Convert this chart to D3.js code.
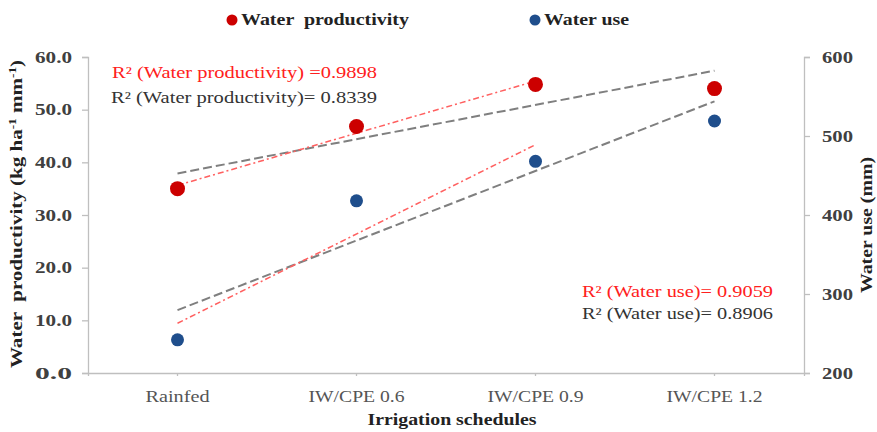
<!DOCTYPE html>
<html><head><meta charset="utf-8">
<script src="https://cdn.jsdelivr.net/npm/d3@7"></script>
<style>
body{margin:0;background:#fff;}
text{font-family:"Liberation Serif","Times New Roman",serif;}
</style></head>
<body><svg id="c" width="877" height="432"></svg>
<script>
const categories = ["Rainfed", "IW/CPE 0.6", "IW/CPE 0.9", "IW/CPE 1.2"];
const waterProductivity = [35.0, 46.8, 54.8, 54.0];
const waterUse = [242, 418, 468, 519];
const leftTicks = [0, 10, 20, 30, 40, 50, 60];
const rightTicks = [200, 300, 400, 500, 600];
const seriesNames = ["Water  productivity", "Water use"];
const r2Labels = [
  "R\u00B2 (Water productivity) =0.9898",
  "R\u00B2 (Water productivity)= 0.8339",
  "R\u00B2 (Water use)= 0.9059",
  "R\u00B2 (Water use)= 0.8906"
];

const svg = d3.select("#c");
const L = 88, R = 804, T = 57, B = 373;
const x = d3.scaleBand().domain(categories).range([L, R]).padding(0);
const cx = c => x(c) + x.bandwidth() / 2;
const yL = d3.scaleLinear().domain([0, 60]).range([B, T]);
const yR = d3.scaleLinear().domain([200, 600]).range([B, T]);
const axisColor = "#bfbfbf";
const stretch = (sel, w) => sel.attr("textLength", w).attr("lengthAdjust", "spacingAndGlyphs");

// left axis
const gl = svg.append("g").attr("transform", `translate(${L},0)`)
  .call(d3.axisLeft(yL).tickValues(leftTicks).tickFormat(d3.format(".1f")).tickSize(6).tickPadding(10));
// right axis
const gr = svg.append("g").attr("transform", `translate(${R},0)`)
  .call(d3.axisRight(yR).tickValues(rightTicks).tickSize(6).tickPadding(12));
// bottom axis
const gb = svg.append("g").attr("transform", `translate(0,${B})`)
  .call(d3.axisBottom(x).tickSize(3).tickPadding(15));
[gl, gr, gb].forEach(g => {
  g.select(".domain").attr("stroke", axisColor).attr("stroke-width", 1.3);
  g.selectAll(".tick line").attr("stroke", axisColor).attr("stroke-width", 1.3);
  g.selectAll(".tick text").attr("font-family", "Liberation Serif").attr("font-size", 16)
    .attr("fill", "#404040").attr("font-weight", "bold");
});
stretch(gl.selectAll(".tick text"), 37);
stretch(gr.selectAll(".tick text"), 31);
gb.selectAll(".tick text").attr("font-weight", "normal").attr("fill", "#555")
  .attr("textLength", (d, i) => i === 0 ? 64 : 96).attr("lengthAdjust", "spacingAndGlyphs");

// regression helper
function fit(vals) {
  const xs = vals.map((v, i) => i + 1);
  const mx = d3.mean(xs), my = d3.mean(vals);
  const s = d3.sum(xs, (xi, i) => (xi - mx) * (vals[i] - my)) / d3.sum(xs, xi => (xi - mx) ** 2);
  return { s, b: my - s * mx };
}
function trend(vals, yScale, color, dash, width) {
  const f = fit(vals);
  const pts = [1, vals.length].map(i => [cx(categories[i - 1]), yScale(f.b + f.s * i)]);
  svg.append("path").attr("d", d3.line()(pts)).attr("fill", "none")
    .attr("stroke", color).attr("stroke-width", width).attr("stroke-dasharray", dash);
}
// trend lines: black over all points, red over first three
trend(waterProductivity, yL, "#7f7f7f", "9,4", 2);
trend(waterUse, yR, "#7f7f7f", "9,4", 2);
trend(waterProductivity.slice(0, 3), yL, "#ff6060", "6,3,2,3", 1.5);
trend(waterUse.slice(0, 3), yR, "#ff6060", "6,3,2,3", 1.5);

// points
svg.append("g").selectAll("circle").data(waterUse).join("circle")
  .attr("cx", (d, i) => cx(categories[i])).attr("cy", d => yR(d)).attr("r", 6.5).attr("fill", "#1f4e8c");
svg.append("g").selectAll("circle").data(waterProductivity).join("circle")
  .attr("cx", (d, i) => cx(categories[i])).attr("cy", d => yL(d)).attr("r", 7.5).attr("fill", "#cc0000");

// legend
const leg = [[232, "#cc0000", seriesNames[0], 168], [535, "#1f4e8c", seriesNames[1], 85]];
leg.forEach(([lx, col, name, w]) => {
  svg.append("circle").attr("cx", lx).attr("cy", 20).attr("r", 5.5).attr("fill", col);
  stretch(svg.append("text").attr("x", lx + 9).attr("y", 25).attr("font-size", 16).attr("font-weight", "bold")
    .attr("fill", "#222").attr("xml:space", "preserve").text(name), w);
});

// R² labels
const ann = [[112, 78, "#ff2020", r2Labels[0], 265], [111, 103, "#333", r2Labels[1], 266],
             [582, 297, "#ff2020", r2Labels[2], 191], [582, 319, "#333", r2Labels[3], 191]];
ann.forEach(([ax, ay, col, t, w]) => {
  stretch(svg.append("text").attr("x", ax).attr("y", ay).attr("font-size", 16).attr("fill", col).text(t), w);
});

// axis titles
stretch(svg.append("text").attr("transform", "translate(22,214) rotate(-90)").attr("text-anchor", "middle")
  .attr("font-size", 16).attr("font-weight", "bold").attr("fill", "#222").attr("xml:space", "preserve")
  .html('Water  productivity (kg ha<tspan dy="-6" font-size="10">-1</tspan><tspan dy="6"> mm</tspan><tspan dy="-6" font-size="10">-1</tspan><tspan dy="6">)</tspan>'), 308);
stretch(svg.append("text").attr("transform", "translate(872,225) rotate(-90)").attr("text-anchor", "middle")
  .attr("font-size", 16).attr("font-weight", "bold").attr("fill", "#222").text("Water use (mm)"), 136);
stretch(svg.append("text").attr("x", 452).attr("y", 425).attr("text-anchor", "middle")
  .attr("font-size", 16).attr("font-weight", "bold").attr("fill", "#222").text("Irrigation schedules"), 169);
</script></body></html>
